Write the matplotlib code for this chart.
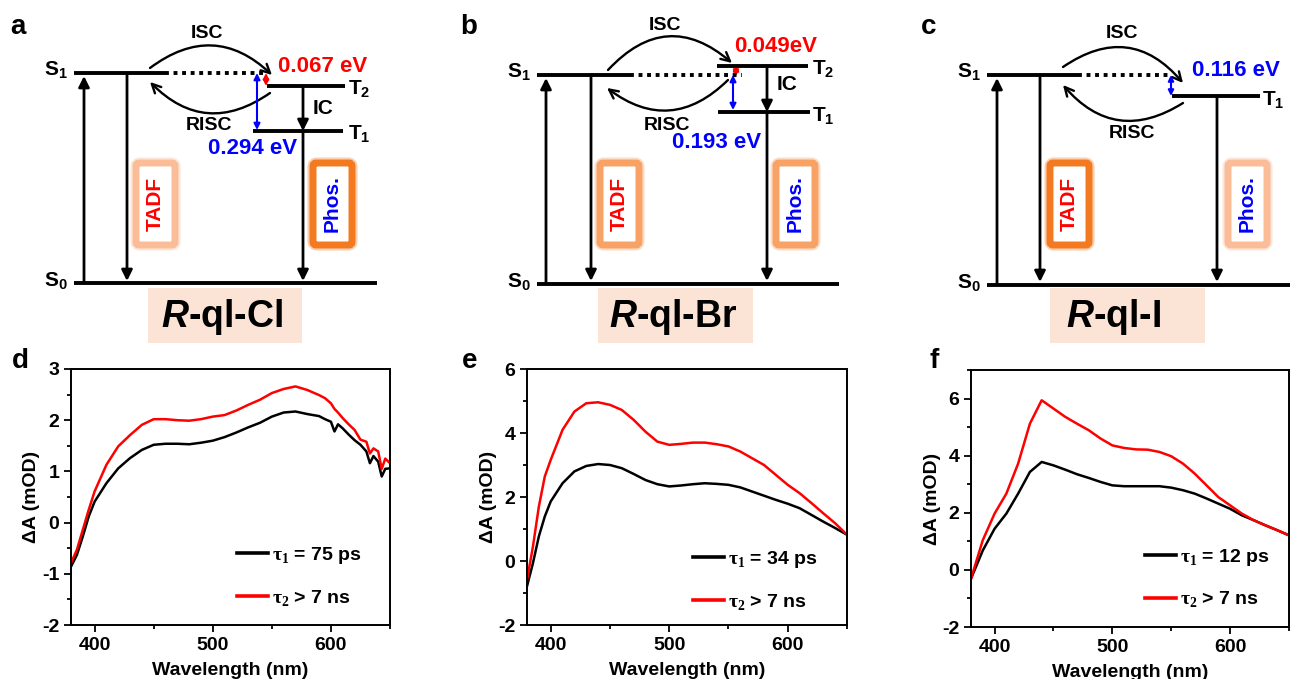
import matplotlib
matplotlib.use("Agg")
import matplotlib.pyplot as plt
from matplotlib.patches import FancyArrowPatch, FancyBboxPatch, Rectangle
from matplotlib.ticker import MultipleLocator

plt.rcParams['font.family'] = ['Liberation Sans', 'DejaVu Sans']
plt.rcParams['font.weight'] = 'bold'
plt.rcParams['axes.labelweight'] = 'bold'
plt.rcParams['axes.unicode_minus'] = False
plt.rcParams['mathtext.fontset'] = 'custom'
plt.rcParams['mathtext.rm'] = 'Liberation Sans:bold'
plt.rcParams['mathtext.bf'] = 'Liberation Sans:bold'
plt.rcParams['mathtext.it'] = 'Liberation Sans:italic:bold'
plt.rcParams['mathtext.sf'] = 'Liberation Serif:bold'

W, H = 1290, 679

# ---- transient absorption data ----
wl_d = [380, 385, 390, 395, 400, 410, 420, 430, 440, 450, 460, 470, 480, 490, 500,
        510, 520, 530, 540, 550, 560, 570, 580, 590, 595, 600, 603, 606, 610, 615,
        620, 625, 630, 633, 636, 640, 643, 646, 650]
d_fast = [-0.86, -0.63, -0.27, 0.12, 0.41, 0.77, 1.06, 1.26, 1.42, 1.52, 1.54, 1.54, 1.53,
          1.56, 1.60, 1.67, 1.76, 1.86, 1.95, 2.07, 2.15, 2.17, 2.12, 2.08, 2.02, 1.97,
          1.78, 1.92, 1.84, 1.72, 1.61, 1.52, 1.39, 1.16, 1.30, 1.19, 0.90, 1.05, 1.06]
d_slow = [-0.79, -0.53, -0.14, 0.25, 0.61, 1.13, 1.49, 1.71, 1.91, 2.02, 2.02, 2.00, 1.99,
          2.02, 2.07, 2.10, 2.19, 2.30, 2.40, 2.53, 2.61, 2.66, 2.59, 2.49, 2.43, 2.33,
          2.22, 2.15, 2.04, 1.92, 1.81, 1.62, 1.58, 1.35, 1.45, 1.39, 1.05, 1.25, 1.16]

wl_e = [380, 385, 390, 395, 400, 410, 420, 430, 440, 450, 460, 470, 480, 490, 500,
        510, 520, 530, 540, 550, 560, 570, 580, 590, 600, 610, 620, 630, 640, 650]
e_fast = [-0.79, -0.07, 0.77, 1.39, 1.86, 2.43, 2.80, 2.97, 3.03, 3.00, 2.90, 2.72, 2.53,
          2.40, 2.33, 2.36, 2.40, 2.43, 2.41, 2.38, 2.30, 2.17, 2.04, 1.91, 1.79, 1.65,
          1.44, 1.23, 1.03, 0.82]
e_slow = [-0.59, 0.45, 1.70, 2.64, 3.16, 4.10, 4.67, 4.93, 4.96, 4.88, 4.72, 4.41, 4.04,
          3.73, 3.63, 3.66, 3.70, 3.70, 3.65, 3.58, 3.42, 3.21, 3.00, 2.69, 2.38, 2.12,
          1.81, 1.49, 1.18, 0.82]

wl_f = [380, 390, 400, 410, 420, 430, 440, 450, 460, 470, 480, 490, 500, 510, 520,
        530, 540, 550, 560, 570, 580, 590, 600, 610, 620, 630, 640, 650]
f_fast = [-0.31, 0.68, 1.44, 1.97, 2.67, 3.43, 3.78, 3.66, 3.51, 3.35, 3.22, 3.08, 2.96,
          2.93, 2.93, 2.93, 2.93, 2.88, 2.79, 2.67, 2.50, 2.32, 2.14, 1.91, 1.74, 1.56,
          1.39, 1.21]
f_slow = [-0.31, 1.04, 1.97, 2.67, 3.72, 5.12, 5.94, 5.65, 5.36, 5.12, 4.89, 4.60, 4.36,
          4.27, 4.22, 4.21, 4.13, 3.98, 3.72, 3.37, 2.96, 2.55, 2.26, 1.97, 1.74, 1.56,
          1.39, 1.21]

labels_d = [r'$\mathsf{\tau}_\mathsf{1}$ = 75 ps', r'$\mathsf{\tau}_\mathsf{2}$ > 7 ns']
labels_e = [r'$\mathsf{\tau}_\mathsf{1}$ = 34 ps', r'$\mathsf{\tau}_\mathsf{2}$ > 7 ns']
labels_f = [r'$\mathsf{\tau}_\mathsf{1}$ = 12 ps', r'$\mathsf{\tau}_\mathsf{2}$ > 7 ns']

compounds = [r'$\mathit{R}$-ql-Cl', r'$\mathit{R}$-ql-Br', r'$\mathit{R}$-ql-I']
gap_ST2 = ['0.067 eV', '0.049eV', None]
gap_ST1 = ['0.294 eV', '0.193 eV', '0.116 eV']

fig = plt.figure(figsize=(W / 100, H / 100), dpi=100)

# overlay in pixel units for the Jablonski diagrams
ov = fig.add_axes([0, 0, 1, 1])
ov.set_xlim(0, W)
ov.set_ylim(H, 0)
ov.axis('off')

LIGHT = '#fbbc98'
MID = '#f9a266'
STRONG = '#f47a22'
PEACH = '#fbe4d6'


def level(x0, x1, y, ls='-'):
    if ls == '-':
        ov.plot([x0, x1], [y, y], color='k', lw=2.8, solid_capstyle='butt')
    else:
        ov.plot([x0, x1], [y, y], color='k', lw=2.8, linestyle=(0, (1, 1.2)),
                dash_capstyle='butt')


def varrow(x, y0, y1, color='k', style='-|>', ms=16, lw=2.0):
    ov.add_patch(FancyArrowPatch((x, y0), (x, y1), arrowstyle=style, mutation_scale=ms,
                                 color=color, lw=lw, shrinkA=0, shrinkB=0))


def curved(p0, p1, rad):
    ov.add_patch(FancyArrowPatch(p0, p1, arrowstyle='->', mutation_scale=16, color='k',
                                 lw=1.7, shrinkA=0, shrinkB=0,
                                 connectionstyle='arc3,rad=%s' % rad))


def glowbox(x0, x1, y0, y1, color, text, tcolor):
    ov.add_patch(FancyBboxPatch((x0, y0), x1 - x0, y1 - y0,
                                boxstyle='round,pad=0,rounding_size=4',
                                fc='white', ec=color, lw=8, alpha=0.35))
    ov.add_patch(FancyBboxPatch((x0, y0), x1 - x0, y1 - y0,
                                boxstyle='round,pad=0,rounding_size=3',
                                fc='white', ec=color, lw=5))
    ov.text((x0 + x1) / 2, (y0 + y1) / 2, text, rotation=90, color=tcolor,
            ha='center', va='center', fontsize=15)


def statelab(x, y, s, sub):
    ov.text(x, y, s + r'$_\mathrm{' + sub + '}$', ha='right', va='center', fontsize=15)


# ---- panel a ----
ov.text(10, 27, 'a', fontsize=20, va='center')
level(74, 165, 73)
level(165, 264, 73, ls=':')
level(74, 377, 283)
level(267, 345, 86)
level(253, 343, 131)
statelab(68, 70, 'S', '1')
statelab(68, 281, 'S', '0')
ov.text(348, 89, r'T$_\mathrm{2}$', va='center', fontsize=15)
ov.text(348, 134, r'T$_\mathrm{1}$', va='center', fontsize=15)
varrow(84, 282, 76)
varrow(127, 75, 281)
varrow(303, 87, 131)
varrow(303, 131, 281)
ov.text(313, 109, 'IC', va='center', fontsize=15)
curved((150, 68), (272, 75), -0.42)
curved((270, 93), (150, 82), -0.42)
ov.text(207, 34, 'ISC', ha='center', va='center', fontsize=14)
ov.text(209, 125, 'RISC', ha='center', va='center', fontsize=14)
varrow(266, 73, 86, color='red', style='<|-|>', ms=8, lw=1.5)
varrow(257, 73, 130, color='blue', style='<|-|>', ms=9, lw=1.5)
ov.text(278, 66, gap_ST2[0], color='red', va='center', fontsize=16)
ov.text(208, 149, gap_ST1[0], color='blue', va='center', fontsize=16)
glowbox(136, 175, 163, 245, LIGHT, 'TADF', 'red')
glowbox(313, 352, 163, 245, STRONG, 'Phos.', 'blue')
ov.add_patch(Rectangle((148, 288), 154, 55, fc=PEACH, ec='none'))
ov.text(222, 317, compounds[0], ha='center', va='center', fontsize=27)

# ---- panel b ----
ov.text(460, 27, 'b', fontsize=20, va='center')
level(537, 630, 75)
level(630, 742, 75, ls=':')
level(537, 839, 284)
level(717, 808, 66)
level(718, 810, 112)
statelab(531, 72, 'S', '1')
statelab(531, 282, 'S', '0')
ov.text(812, 69, r'T$_\mathrm{2}$', va='center', fontsize=15)
ov.text(812, 116, r'T$_\mathrm{1}$', va='center', fontsize=15)
varrow(546, 283, 78)
varrow(591, 77, 281)
varrow(767, 67, 112)
varrow(767, 112, 281)
ov.text(777, 85, 'IC', va='center', fontsize=15)
curved((608, 70), (732, 63), -0.48)
curved((728, 80), (607, 88), -0.43)
ov.text(665, 26, 'ISC', ha='center', va='center', fontsize=14)
ov.text(667, 126, 'RISC', ha='center', va='center', fontsize=14)
varrow(736, 65, 76, color='red', style='<|-|>', ms=8, lw=1.5)
varrow(733, 75, 110, color='blue', style='<|-|>', ms=9, lw=1.5)
ov.text(734, 47, gap_ST2[1], color='red', va='center', fontsize=16)
ov.text(672, 143, gap_ST1[1], color='blue', va='center', fontsize=16)
glowbox(600, 639, 163, 245, MID, 'TADF', 'red')
glowbox(776, 815, 163, 245, MID, 'Phos.', 'blue')
ov.add_patch(Rectangle((598, 288), 155, 55, fc=PEACH, ec='none'))
ov.text(673, 317, compounds[1], ha='center', va='center', fontsize=27)

# ---- panel c ----
ov.text(921, 27, 'c', fontsize=20, va='center')
level(987, 1078, 75)
level(1078, 1172, 75, ls=':')
level(987, 1290, 285)
level(1172, 1260, 96)
statelab(981, 72, 'S', '1')
statelab(981, 283, 'S', '0')
ov.text(1262, 100, r'T$_\mathrm{1}$', va='center', fontsize=15)
varrow(997, 284, 78)
varrow(1040, 77, 282)
varrow(1217, 97, 282)
curved((1063, 67), (1183, 83), -0.45)
curved((1183, 103), (1063, 85), -0.43)
ov.text(1122, 34, 'ISC', ha='center', va='center', fontsize=14)
ov.text(1132, 134, 'RISC', ha='center', va='center', fontsize=14)
varrow(1171, 75, 96, color='blue', style='<|-|>', ms=8, lw=1.5)
ov.text(1192, 70, gap_ST1[2], color='blue', va='center', fontsize=16)
glowbox(1050, 1089, 163, 245, STRONG, 'TADF', 'red')
glowbox(1228, 1267, 163, 245, LIGHT, 'Phos.', 'blue')
ov.add_patch(Rectangle((1050, 288), 155, 55, fc=PEACH, ec='none'))
ov.text(1114, 317, compounds[2], ha='center', va='center', fontsize=27)


# ---- spectra ----
def spec_axes(left, right, top, bottom):
    return fig.add_axes([left / W, 1 - bottom / H, (right - left) / W, (bottom - top) / H])


def style_ax(ax, ylim, ymaj, ymin):
    ax.set_xlim(380, 650)
    ax.set_ylim(*ylim)
    ax.xaxis.set_major_locator(MultipleLocator(100))
    ax.xaxis.set_minor_locator(MultipleLocator(50))
    ax.yaxis.set_major_locator(MultipleLocator(ymaj))
    ax.yaxis.set_minor_locator(MultipleLocator(ymin))
    ax.tick_params(which='major', direction='out', length=5, width=1.3, labelsize=14)
    ax.tick_params(which='minor', direction='out', length=3, width=1.3)
    for s in ax.spines.values():
        s.set_linewidth(1.4)
    ax.set_xlabel('Wavelength (nm)', fontsize=14, labelpad=6)
    ax.set_ylabel('ΔA (mOD)', fontsize=14, labelpad=1)


panels = [
    (spec_axes(71, 390, 369, 625), wl_d, d_fast, d_slow, labels_d, (-2, 3), 1, 0.5, (0.52, 0.19), 'd', 12),
    (spec_axes(527, 847, 369, 625), wl_e, e_fast, e_slow, labels_e, (-2, 6), 2, 1, (0.519, 0.174), 'e', 462),
    (spec_axes(971, 1289, 370, 627), wl_f, f_fast, f_slow, labels_f, (-2, 7), 2, 1, (0.547, 0.19), 'f', 930),
]

for ax, wl, fast, slow, labs, ylim, ymaj, ymin, lpos, letter, lx in panels:
    ax.plot(wl, fast, color='black', lw=1.8, label=labs[0])
    ax.plot(wl, slow, color='#ff0000', lw=1.8, label=labs[1])
    style_ax(ax, ylim, ymaj, ymin)
    leg = ax.legend(loc='center left', bbox_to_anchor=lpos, frameon=False, fontsize=14,
                    handlelength=1.6, handletextpad=0.2, labelspacing=1.1,
                    borderpad=0, borderaxespad=0)
    for h in leg.get_lines():
        h.set_linewidth(2.6)
    ov.text(lx, 361, letter, fontsize=20, va='center')

fig.savefig('out.png', dpi=100)
